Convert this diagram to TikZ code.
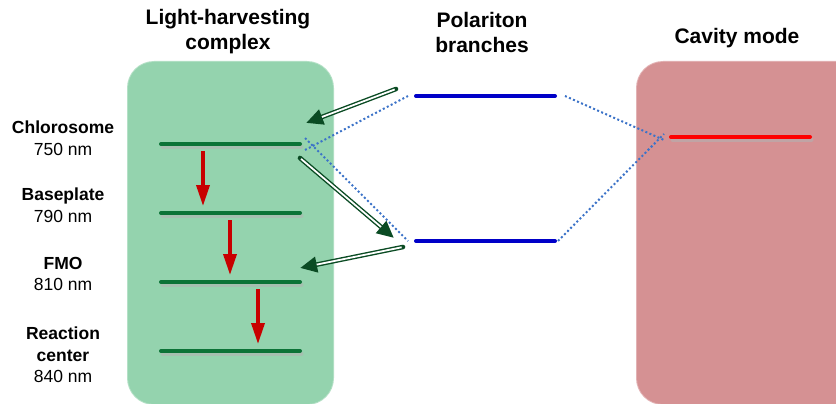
\documentclass[tikz,border=0pt]{standalone}
\usepackage{fontspec}
\setmainfont{Liberation Sans}
\usetikzlibrary{arrows.meta}
\definecolor{boxgreen}{RGB}{148,211,174}
\definecolor{boxred}{RGB}{213,145,147}
\definecolor{lvgreen}{RGB}{12,115,55}
\definecolor{lvblue}{RGB}{0,0,200}
\definecolor{dotblue}{RGB}{60,115,200}
\definecolor{arrred}{RGB}{200,0,0}
\definecolor{dkgreen}{RGB}{10,75,35}
\tikzset{
  levelline/.style={line width=4pt, line cap=round},
  shadowline/.style={line width=4pt, line cap=round, black!30, opacity=0.6},
  dotline/.style={dotblue, line width=2pt, dash pattern=on 2pt off 2.4pt},
  relax/.style={arrred, line width=3.5pt, -{Triangle[length=21pt,width=13pt]}},
  dblout/.style={dkgreen, line width=4.6pt, line cap=round, -{Triangle[length=17pt,width=15pt]}},
  dblin/.style={white, line width=1.8pt, shorten >=17pt, shorten <=1.4pt},
  title/.style={font=\fontsize{21}{25}\selectfont\bfseries, align=center},
  lbl/.style={font=\fontsize{17.5}{21.5}\selectfont, align=center},
}
\begin{document}
\begin{tikzpicture}[x=1pt,y=-1pt]
\useasboundingbox (0,0) rectangle (836,404);
\clip (0,0) rectangle (836,404);
% boxes
\fill[boxgreen!70!white] (127,61) [rounded corners=27pt] -- (127,405) -- (334,405) -- (334,61) -- cycle;
\fill[boxgreen] (128,62) [rounded corners=26pt] -- (128,404) -- (333,404) -- (333,62) -- cycle;
\fill[boxred!70!white] (636,61) [rounded corners=27pt] -- (636,405) -- (870,405) -- (870,61) -- cycle;
\fill[boxred] (637,62) [rounded corners=26pt] -- (637,404) -- (870,404) -- (870,62) -- cycle;

% titles
\node[title] (tlh) at (228,32) {Light-harvesting\\complex};
\node[title] (tpb) at (482,32) {Polariton\\branches};
\node[title] (tcm) at (737,38) {Cavity mode};

% labels
\node[lbl] (lchl) at (63,138) {\textbf{Chlorosome}\\750 nm};
\node[lbl] (lbas) at (63,205) {\textbf{Baseplate}\\790 nm};
\node[lbl] (lfmo) at (63,274) {\textbf{FMO}\\810 nm};
\node[lbl] (lrc) at (63,355) {\textbf{Reaction}\\\textbf{center}\\840 nm};

% level coordinates
\coordinate (c1) at (161,144); \coordinate (c2) at (300,144);
\coordinate (b1) at (161,213); \coordinate (b2) at (300,213);
\coordinate (f1) at (161,282); \coordinate (f2) at (300,282);
\coordinate (r1) at (161,351); \coordinate (r2) at (300,351);
\coordinate (up1) at (416,96); \coordinate (up2) at (555,96);
\coordinate (lp1) at (416,241); \coordinate (lp2) at (555,241);
\coordinate (cv1) at (671,137); \coordinate (cv2) at (810,137);

% shadows
\foreach \a/\b in {c1/c2,b1/b2,f1/f2,r1/r2,cv1/cv2}
  \draw[shadowline] ([shift={(1.5,2.5)}]\a) -- ([shift={(1.5,2.5)}]\b);

% levels
\draw[levelline, lvgreen] (c1) -- (c2);
\draw[levelline, lvgreen] (b1) -- (b2);
\draw[levelline, lvgreen] (f1) -- (f2);
\draw[levelline, lvgreen] (r1) -- (r2);
\draw[levelline, lvblue] (up1) -- (up2);
\draw[levelline, lvblue] (lp1) -- (lp2);
\draw[levelline, red] (cv1) -- (cv2);

% dotted couplings
\draw[dotline] ([xshift=5pt,yshift=-6pt]c2) -- ([xshift=-8pt]up1);
\draw[dotline] ([xshift=5pt,yshift=6pt]c2) -- ([xshift=-8pt]lp1);
\draw[dotline] ([xshift=10pt]up2) -- ([xshift=-7pt,yshift=-3pt]cv1);
\draw[dotline] ([xshift=3pt]lp2) -- ([xshift=-7pt,yshift=3pt]cv1);

% relaxation arrows
\coordinate (a1s) at (203,151); \coordinate (a1e) at (203,206);
\coordinate (a2s) at (230,220); \coordinate (a2e) at (230,275);
\coordinate (a3s) at (258,289); \coordinate (a3e) at (258,344);
\draw[relax] (a1s) -- (a1e);
\draw[relax] (a2s) -- (a2e);
\draw[relax] (a3s) -- (a3e);

% double (energy transfer) arrows
\coordinate (d1s) at (396,89);  \coordinate (d1e) at (306,123);
\coordinate (d2s) at (300,158); \coordinate (d2e) at (394,238);
\coordinate (d3s) at (403,247); \coordinate (d3e) at (300,268);
\foreach \s/\e in {d1s/d1e,d2s/d2e,d3s/d3e}{
  \draw[dblout] (\s) -- (\e);
  \draw[dblin] (\s) -- (\e);
}
\end{tikzpicture}
\end{document}
